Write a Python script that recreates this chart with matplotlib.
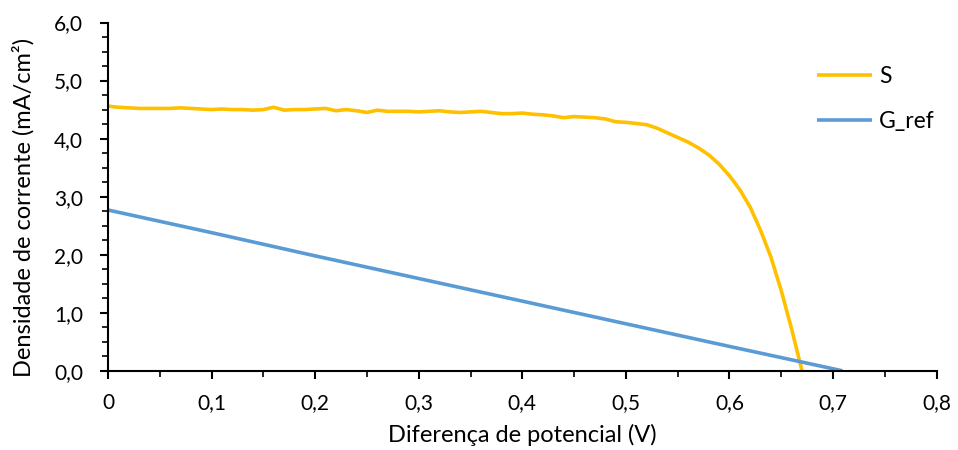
import matplotlib
matplotlib.use("Agg")
import matplotlib.pyplot as plt
from matplotlib.ticker import MultipleLocator, FuncFormatter

plt.rcParams['font.family'] = ['Lato', 'DejaVu Sans']

# tensão (V)
v_s = [0.00, 0.01, 0.02, 0.03, 0.04, 0.05, 0.06, 0.07, 0.08, 0.09,
       0.10, 0.11, 0.12, 0.13, 0.14, 0.15, 0.16, 0.17, 0.18, 0.19,
       0.20, 0.21, 0.22, 0.23, 0.24, 0.25, 0.26, 0.27, 0.28, 0.29,
       0.30, 0.31, 0.32, 0.33, 0.34, 0.35, 0.36, 0.37, 0.38, 0.39,
       0.40, 0.41, 0.42, 0.43, 0.44, 0.45, 0.46, 0.47, 0.48, 0.49,
       0.50, 0.51, 0.52, 0.53, 0.54, 0.55, 0.56, 0.57, 0.58, 0.59,
       0.60, 0.61, 0.62, 0.63, 0.64, 0.65, 0.66, 0.67]
# densidade de corrente da amostra S (mA/cm2)
j_s = [4.56, 4.54, 4.53, 4.52, 4.52, 4.52, 4.52, 4.53, 4.52, 4.51,
       4.50, 4.51, 4.50, 4.50, 4.49, 4.50, 4.54, 4.49, 4.50, 4.50,
       4.51, 4.52, 4.48, 4.50, 4.48, 4.45, 4.49, 4.47, 4.47, 4.47,
       4.46, 4.47, 4.48, 4.46, 4.45, 4.46, 4.47, 4.45, 4.43, 4.43,
       4.44, 4.42, 4.41, 4.39, 4.36, 4.38, 4.37, 4.36, 4.34, 4.29,
       4.28, 4.26, 4.24, 4.18, 4.10, 4.02, 3.94, 3.84, 3.72, 3.56,
       3.36, 3.12, 2.82, 2.42, 1.96, 1.38, 0.72, 0.00]

# referencia
v_ref = [0.00, 0.10, 0.20, 0.30, 0.40, 0.50, 0.60, 0.709]
j_ref = [2.77, 2.38, 1.98, 1.59, 1.20, 0.81, 0.42, 0.00]

fig = plt.figure(figsize=(9.58, 4.5), dpi=100)
ax = fig.add_axes([0.1127, 0.176, 0.865, 0.774])

ax.plot(v_s, j_s, color='#FFC000', lw=2.6, label='S', solid_capstyle='butt')
ax.plot(v_ref, j_ref, color='#5B9BD5', lw=2.6, label='G_ref', solid_capstyle='butt')

ax.set_xlim(0, 0.8)
ax.set_ylim(0, 6.0)
ax.xaxis.set_major_locator(MultipleLocator(0.1))
ax.xaxis.set_minor_locator(MultipleLocator(0.05))
ax.yaxis.set_major_locator(MultipleLocator(1.0))
ax.yaxis.set_minor_locator(MultipleLocator(0.25))

def fmt_x(v, pos):
    if abs(v) < 1e-9:
        return '0'
    return ('%.1f' % v).replace('.', ',')

def fmt_y(v, pos):
    return ('%.1f' % v).replace('.', ',')

ax.xaxis.set_major_formatter(FuncFormatter(fmt_x))
ax.yaxis.set_major_formatter(FuncFormatter(fmt_y))

for s in ['top', 'right']:
    ax.spines[s].set_visible(False)
for s in ['left', 'bottom']:
    ax.spines[s].set_linewidth(1.5)
    ax.spines[s].set_color('black')

ax.tick_params(which='major', direction='out', length=6, width=1.5,
               labelsize=15, colors='black')
ax.tick_params(axis='x', which='major', pad=10)
ax.tick_params(axis='y', which='major', pad=12)
ax.tick_params(which='minor', direction='out', length=4, width=1.2, colors='black')

ax.set_xlabel('Diferença de potencial (V)', fontsize=17)
ax.set_ylabel('Densidade de corrente (mA/cm²)', fontsize=17)
ax.xaxis.set_label_coords(0.5, -0.152)
ax.yaxis.set_label_coords(-0.088, 0.47)

ax.legend(loc='upper left', bbox_to_anchor=(0.831, 0.935), frameon=False,
          fontsize=16.5, handlelength=2.4, handletextpad=0.3, labelspacing=1.06)

fig.savefig('out.png', dpi=100)
